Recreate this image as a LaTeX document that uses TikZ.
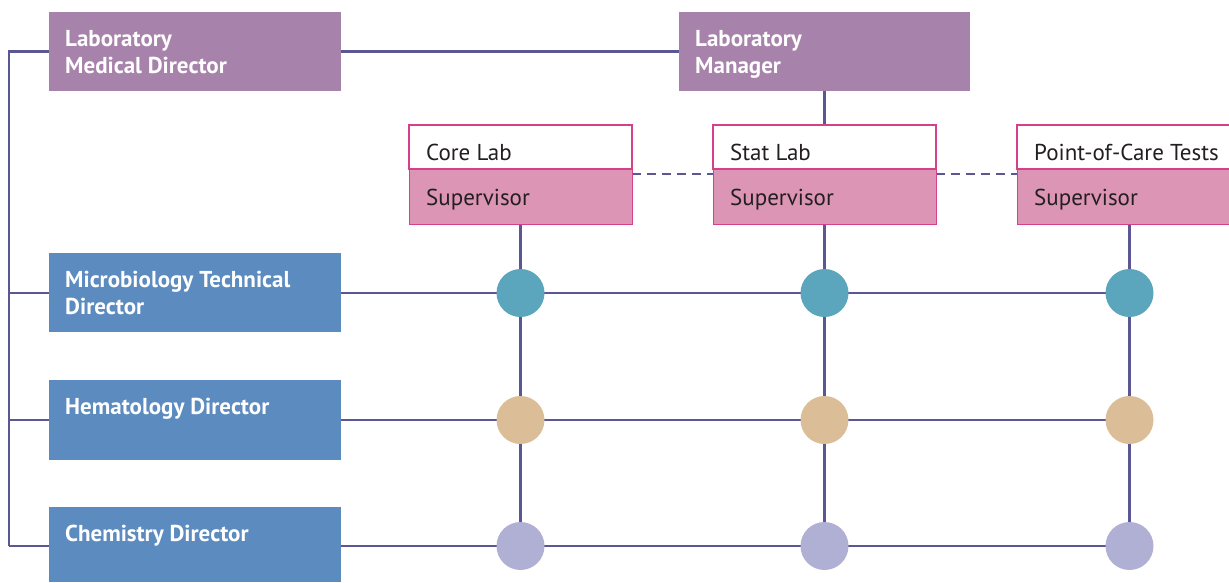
\documentclass[tikz,border=0pt]{standalone}
\usepackage{fontspec}
\setmainfont{PT Sans}
\usetikzlibrary{backgrounds}
\definecolor{purplebox}{HTML}{A782AA}
\definecolor{bluebox}{HTML}{5B8BBF}
\definecolor{linec}{HTML}{5B5694}
\definecolor{tealc}{HTML}{5BA5BD}
\definecolor{tanc}{HTML}{DBBD98}
\definecolor{lavc}{HTML}{B0B0D4}
\definecolor{pinkfill}{HTML}{DC95B5}
\definecolor{pinkline}{HTML}{D4418A}
\definecolor{darktext}{HTML}{231F20}
\begin{document}
\begin{tikzpicture}[x=1pt,y=-1pt,
  boxbase/.style={rectangle, inner sep=0pt, outer sep=0pt, minimum width=292pt},
  pbox/.style={boxbase, fill=purplebox, minimum height=79pt},
  bbox/.style={boxbase, fill=bluebox, minimum height=79pt},
  labbox/.style={rectangle, inner sep=0pt, outer sep=0pt, minimum width=223pt, minimum height=44pt, fill=white, draw=pinkline, line width=1.2pt},
  supbox/.style={rectangle, inner sep=0pt, outer sep=0pt, minimum width=223pt, minimum height=55pt, fill=pinkfill, draw=pinkline, line width=0.6pt},
  dot/.style={circle, inner sep=0pt, minimum size=48pt},
  btext/.style={anchor=base west, inner sep=0pt, align=left, text=white, font=\fontsize{23}{27}\selectfont\bfseries},
  stext/.style={anchor=base west, inner sep=0pt, text=darktext, font=\fontsize{23}{27}\selectfont},
  conn/.style={draw=linec, line width=2.4pt},
  dconn/.style={conn, dash pattern=on 9pt off 6pt}
]
\useasboundingbox (0,0) rectangle (1229,582);

% top management
\node[pbox] (lmd) at (195,51.5) {};
\node[pbox, minimum width=291pt] (lm) at (824.5,51.5) {};
\node[btext] (lmdt) at ([xshift=16pt,yshift=-61pt]lmd.north west) {Laboratory\\Medical Director};
\node[btext] (lmt) at ([xshift=16pt,yshift=-61pt]lm.north west) {Laboratory\\Manager};

% labs
\node[labbox] (core) at (520.5,147) {};
\node[supbox] (coresup) at (520.5,196.5) {};
\node[labbox] (stat) at (824.5,147) {};
\node[supbox] (statsup) at (824.5,196.5) {};
\node[labbox, minimum width=213pt] (poc) at (1123.5,147) {};
\node[supbox, minimum width=213pt] (pocsup) at (1123.5,196.5) {};
\node[stext] (coret) at ([xshift=17pt,yshift=-35pt]core.north west) {Core Lab};
\node[stext] (statt) at ([xshift=17pt,yshift=-35pt]stat.north west) {Stat Lab};
\node[stext] (poct) at ([xshift=17pt,yshift=-35pt]poc.north west) {Point-of-Care Tests};
\node[stext] (coresupt) at ([xshift=17pt,yshift=-36pt]coresup.north west) {Supervisor};
\node[stext] (statsupt) at ([xshift=17pt,yshift=-36pt]statsup.north west) {Supervisor};
\node[stext] (pocsupt) at ([xshift=17pt,yshift=-36pt]pocsup.north west) {Supervisor};

% directors
\node[bbox] (mtd) at (195,292.5) {};
\node[bbox, minimum height=80pt] (hd) at (195,420) {};
\node[bbox, minimum height=75pt] (cd) at (195,544.5) {};
\node[btext] (mtdt) at ([xshift=16pt,yshift=-61pt]mtd.north west) {Microbiology Technical\\Director};
\node[btext] (hdt) at ([xshift=16pt,yshift=-34pt]hd.north west) {Hematology Director};
\node[btext] (cdt) at ([xshift=16pt,yshift=-34pt]cd.north west) {Chemistry Director};

% matrix dots
\node[dot, fill=tealc] (m1) at (520.5,293) {};
\node[dot, fill=tealc] (m2) at (824.5,293) {};
\node[dot, fill=tealc] (m3) at (1129.5,293) {};
\node[dot, fill=tanc] (h1) at (520.5,420) {};
\node[dot, fill=tanc] (h2) at (824.5,420) {};
\node[dot, fill=tanc] (h3) at (1129.5,420) {};
\node[dot, fill=lavc] (c1) at (520.5,546) {};
\node[dot, fill=lavc] (c2) at (824.5,546) {};
\node[dot, fill=lavc] (c3) at (1129.5,546) {};

\coordinate (tl) at (9,51.5);
\coordinate (bl) at (9,546);

\begin{scope}[on background layer]
  \draw[conn] (lm.west) -- (lmd.east);
  \draw[conn] (lmd.west) -- (tl) -- (bl);
  \draw[conn] (lm.south) -- (stat.north);
  \draw[conn] (tl |- m1) -- (m3.center);
  \draw[conn] (tl |- h1) -- (h3.center);
  \draw[conn] (bl) -- (c3.center);
  \draw[conn] (coresup.south) -- (c1.center);
  \draw[conn] (statsup.south) -- (c2.center);
  \draw[conn] (pocsup.south -| m3) -- (c3.center);
  \draw[dconn] ([yshift=-5pt]core.south east) -- ([yshift=-5pt]stat.south west);
  \draw[dconn] ([yshift=-5pt]stat.south east) -- ([yshift=-5pt]poc.south west);
\end{scope}
\end{tikzpicture}
\end{document}
